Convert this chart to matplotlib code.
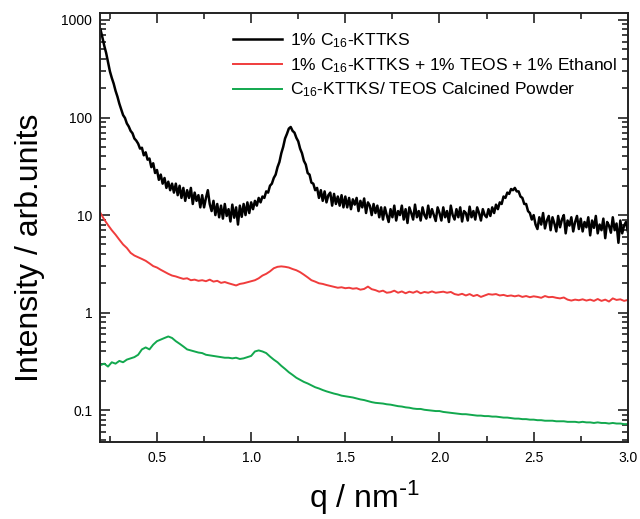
import numpy as np
import matplotlib
matplotlib.use("Agg")
import matplotlib.pyplot as plt
from matplotlib.ticker import LogLocator, FixedLocator, NullFormatter

plt.rcParams['font.family'] = ['Liberation Sans', 'DejaVu Sans']
plt.rcParams['mathtext.default'] = 'regular'

labels = ["1% C$_{16}$-KTTKS",
          "1% C$_{16}$-KTTKS + 1% TEOS + 1% Ethanol",
          "C$_{16}$-KTTKS/ TEOS Calcined Powder"]

# black: q = 0.20 ... 3.00 step 0.01
black = [800, 665, 545, 460, 370, 298, 255, 223, 188, 164, 139, 121, 106, 99, 87, 81, 73, 69, 61, 58,
         54, 48, 49, 41, 44, 37, 38, 31, 34, 27, 29, 23, 26, 21, 24, 19, 22, 18, 21, 17,
         21, 16, 20, 15, 19, 14, 18, 15, 19, 13, 17, 14, 16, 12, 16, 12, 15, 18, 13, 11,
         14, 10, 13, 9.5, 12.5, 9.2, 13, 9.8, 11.5, 8.6, 12.8, 9.4, 12, 8.0, 12.5, 9.6, 13, 10, 13.5, 10.5,
         13.5, 11.5, 14, 12.5, 15, 13.5, 15.5, 15, 17.5, 17,
         20, 21, 24, 26, 31, 35, 43, 50, 61, 68, 77, 80, 73, 70, 62, 57, 48, 43, 36, 33, 27, 26, 21.5, 21, 18,
         19, 15, 18, 14, 17.5, 13.5, 16, 17, 12.5, 16.5, 13, 15.5, 12.5, 16, 12,
         15.5, 12, 15, 11.5, 14.5, 12.8, 15, 11, 14, 12, 14.8, 10.5, 13.5, 12.5, 10, 13, 10.5, 12.5, 9.5, 12,
         9.0, 12, 10, 8.5, 11.5, 9.5, 12.5, 8.8, 11, 10, 12.5, 9, 11.5, 8.3, 12, 10.5, 9, 12.8, 9.5, 11,
         8.8, 12, 10, 9.2, 12.5, 9.5, 11.5, 10, 8.7, 12,
         10.5, 8.8, 12, 9.5, 11, 8.5, 12.5, 10, 9, 11.5, 9.5, 12, 8.6, 11, 10.5, 8.8, 12.2, 9.5, 11, 9, 12, 10.5, 8.8, 11.5, 10,
         9.5, 11.5, 9.8, 12, 10.5, 12.8, 11.5, 13.5, 13, 15.5, 15, 17, 16.5, 18.5, 18, 19, 17.5, 17.5, 15.5, 15, 13, 13, 11, 10.5, 9,
         10, 8, 7.2, 9.5, 8, 10.5, 7.3, 8.8, 9.8, 7, 9.5, 8.2, 6.8, 9.8, 7.5, 9, 10, 6.5, 8.8, 7.8, 9.5, 6.8, 8.5, 9.8, 7.2,
         9.2, 6.8, 8.5, 7.5, 9.5, 6.2, 8.8, 7.4, 9.8, 6.5, 8, 7, 9.2, 5.8, 8.5, 7.8, 6.6, 9.5, 7, 8.2, 5.2, 8.8, 6.5, 7.8, 8.5, 6.8]

# red: q = 0.20 ... 3.00 step 0.02
red = [10.5, 9.0, 7.9, 7.0, 6.3, 5.6, 5.0, 4.6, 4.1, 3.85, 3.7, 3.55, 3.4, 3.2, 3.0, 2.9, 2.75, 2.62, 2.5, 2.4,
       2.35, 2.28, 2.22, 2.25, 2.15, 2.18, 2.12, 2.15, 2.1, 2.18, 2.08, 2.12, 2.02, 2.06, 2.0, 1.95, 1.9, 1.97, 2.0, 2.05,
       2.1, 2.15, 2.25, 2.4, 2.5, 2.65, 2.85, 2.95, 2.98, 2.95, 2.9, 2.8, 2.72, 2.6, 2.45, 2.3, 2.15, 2.08, 2.0, 1.97,
       1.92, 1.88, 1.84, 1.8, 1.82, 1.78, 1.8, 1.76, 1.78, 1.72, 1.75, 1.85, 1.74, 1.7, 1.64, 1.68, 1.6, 1.62, 1.68, 1.6,
       1.65, 1.58, 1.64, 1.6, 1.66, 1.58, 1.63, 1.6, 1.65, 1.6, 1.62, 1.64, 1.6, 1.63, 1.55, 1.52, 1.56, 1.5, 1.55, 1.48,
       1.52, 1.45, 1.5, 1.55, 1.53, 1.55, 1.5, 1.52, 1.48, 1.5, 1.47, 1.5, 1.45, 1.48, 1.44, 1.47, 1.45, 1.42, 1.48, 1.44,
       1.45, 1.42, 1.4, 1.43, 1.36, 1.33, 1.36, 1.34, 1.37, 1.33, 1.36, 1.32, 1.38, 1.32, 1.36, 1.3, 1.4, 1.35, 1.37, 1.32,
       1.35]

# green: q = 0.20 ... 3.00 step 0.02
green = [0.29, 0.30, 0.28, 0.31, 0.30, 0.32, 0.31, 0.33, 0.34, 0.35, 0.37, 0.42, 0.44, 0.42, 0.47, 0.51, 0.53, 0.55, 0.57, 0.55,
         0.51, 0.48, 0.45, 0.42, 0.41, 0.40, 0.39, 0.385, 0.37, 0.365, 0.36, 0.355, 0.35, 0.345, 0.345, 0.34, 0.345, 0.335, 0.34, 0.35,
         0.36, 0.40, 0.41, 0.40, 0.385, 0.355, 0.33, 0.31, 0.285, 0.265, 0.245, 0.23, 0.215, 0.205, 0.195, 0.188, 0.18, 0.172, 0.167, 0.161,
         0.156, 0.152, 0.148, 0.145, 0.141, 0.139, 0.137, 0.135, 0.132, 0.129, 0.127, 0.124, 0.121, 0.119, 0.118, 0.117, 0.115, 0.114, 0.112, 0.110,
         0.109, 0.107, 0.106, 0.104, 0.103, 0.103, 0.101, 0.100, 0.099, 0.098, 0.098, 0.096, 0.095, 0.094, 0.093, 0.092, 0.091, 0.091, 0.090, 0.089,
         0.088, 0.088, 0.087, 0.087, 0.086, 0.086, 0.085, 0.084, 0.084, 0.083, 0.082, 0.082, 0.081, 0.081, 0.080, 0.080, 0.079, 0.079, 0.078, 0.078,
         0.078, 0.077, 0.077, 0.077, 0.076, 0.076, 0.076, 0.075, 0.076, 0.075, 0.075, 0.074, 0.075, 0.074, 0.074, 0.073, 0.074, 0.073, 0.073, 0.072,
         0.072]

q_black = np.linspace(0.20, 3.00, len(black))
q_red = np.linspace(0.20, 3.00, len(red))
q_green = np.linspace(0.20, 3.00, len(green))

fig = plt.figure(figsize=(6.40, 5.19), dpi=100)
ax = fig.add_axes([0.157, 0.148, 0.824, 0.827])

ax.plot(q_black, black, color='black', lw=1.8, label=labels[0])
ax.plot(q_red, red, color='#f03c3c', lw=1.4, label=labels[1])
ax.plot(q_green, green, color='#12a84e', lw=1.4, label=labels[2])

ax.set_yscale('log')
ax.set_xlim(0.2, 3.0)
ax.set_ylim(0.047, 1180)

ax.xaxis.set_major_locator(FixedLocator([0.5, 1.0, 1.5, 2.0, 2.5, 3.0]))
ax.xaxis.set_minor_locator(FixedLocator([0.25, 0.75, 1.25, 1.75, 2.25, 2.75]))
ax.set_xticklabels(['0.5', '1.0', '1.5', '2.0', '2.5', '3.0'])
ax.yaxis.set_major_locator(FixedLocator([0.1, 1, 10, 100, 1000]))
ax.set_yticklabels(['0.1', '1', '10', '100', '1000'])
ax.yaxis.set_minor_locator(LogLocator(base=10, subs=np.arange(2, 10), numticks=20))
ax.yaxis.set_minor_formatter(NullFormatter())

ax.tick_params(which='both', direction='in', top=True, right=True, labelsize=10, width=1.2, color='#222222')
ax.tick_params(which='major', length=7, pad=6)
ax.tick_params(which='minor', length=4)
for s in ax.spines.values():
    s.set_linewidth(1.4)
    s.set_color('#222222')

ax.set_ylabel('Intensity / arb.units', fontsize=23)
ax.set_xlabel(r'q / nm$^{\text{-}1}$', fontsize=23)
ax.yaxis.set_label_coords(-0.105, 0.452)
ax.xaxis.set_label_coords(0.5, -0.085)

ax.legend(loc='upper left', bbox_to_anchor=(0.251, 0.958), frameon=False, fontsize=12.6,
          handlelength=2.8, handletextpad=0.45, labelspacing=0.35, borderpad=0, borderaxespad=0)

fig.savefig('out.png', dpi=100)
